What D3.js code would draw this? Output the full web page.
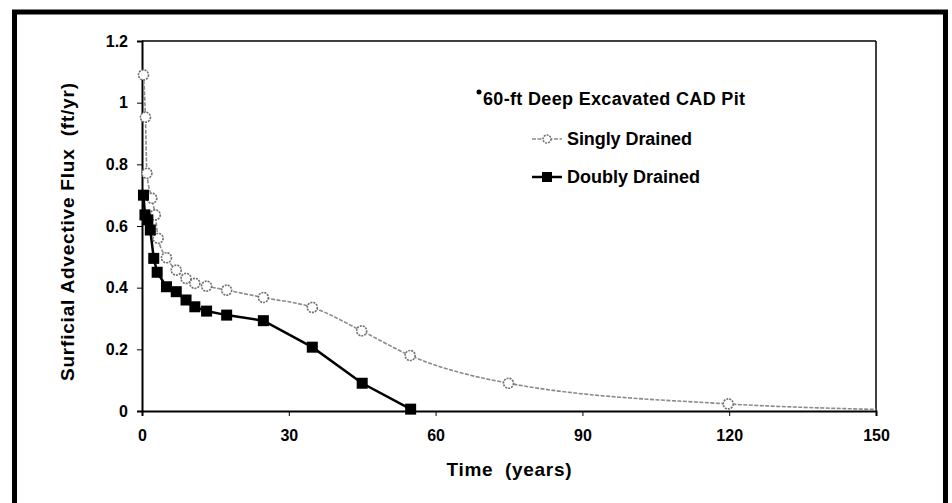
<!DOCTYPE html>
<html><head><meta charset="utf-8">
<script src="https://cdn.jsdelivr.net/npm/d3@7"></script>
<style>body{margin:0;background:#fff;} svg{display:block;} text{font-family:Arial,"Liberation Sans",sans-serif;font-weight:bold;fill:#000;white-space:pre;}</style>
</head><body><svg id="c" width="952" height="503"></svg>
<script>
// Data
const xTicks = [0, 30, 60, 90, 120, 150];
const yTicks = [0, 0.2, 0.4, 0.6, 0.8, 1, 1.2];
const yTickLabels = ["0", "0.2", "0.4", "0.6", "0.8", "1", "1.2"];
const singlyTime = [0.3, 0.7, 1.0, 2.0, 2.7, 3.3, 5.0, 7.0, 9.0, 10.8, 13.2, 17.3, 24.8, 34.8, 44.9, 54.8, 74.9, 119.8, 150];
const singlyFlux = [1.09, 0.953, 0.771, 0.69, 0.636, 0.56, 0.497, 0.457, 0.43, 0.414, 0.405, 0.392, 0.368, 0.336, 0.26, 0.18, 0.09, 0.023, 0.005];
const doublyTime = [0.3, 0.6, 1.2, 1.7, 2.4, 3.1, 5.0, 7.0, 9.0, 10.8, 13.2, 17.3, 24.8, 34.8, 45.0, 54.9];
const doublyFlux = [0.70, 0.636, 0.62, 0.587, 0.495, 0.45, 0.403, 0.387, 0.36, 0.338, 0.324, 0.311, 0.293, 0.207, 0.09, 0.006];
const legendTitle = "60-ft Deep Excavated CAD Pit";
const seriesNames = ["Singly Drained", "Doubly Drained"];

const svg = d3.select("#c");
const L = 142, R = 876, T = 41, B = 411;
const x = d3.scaleLinear().domain([0, 150]).range([L, R]);
const y = d3.scaleLinear().domain([0, 1.2]).range([B, T]);
const FF = "Arial, 'Liberation Sans', sans-serif";

// outer frame
svg.append("rect").attr("x", 14.5).attr("y", 12).attr("width", 931).attr("height", 530)
  .attr("fill", "none").attr("stroke", "#000").attr("stroke-width", 5);

// plot border (top/right)
svg.append("line").attr("x1", L).attr("x2", R).attr("y1", T).attr("y2", T).attr("stroke", "#000").attr("stroke-width", 1.5);
svg.append("line").attr("x1", R).attr("x2", R).attr("y1", T).attr("y2", B).attr("stroke", "#000").attr("stroke-width", 1.5);

// axes
const xAxis = d3.axisBottom(x).tickValues(xTicks).tickSize(5).tickPadding(14).tickFormat(d3.format("d"));
const gx = svg.append("g").attr("transform", `translate(0,${B})`).call(xAxis);
gx.select(".domain").attr("stroke-width", 2);
gx.selectAll("text").style("font-size", "16px").style("font-family", FF).style("font-weight", "bold");

const yAxis = d3.axisLeft(y).tickValues(yTicks).tickSize(5).tickPadding(9).tickFormat((d, i) => yTickLabels[i]);
const gy = svg.append("g").attr("transform", `translate(${L},0)`).call(yAxis);
gy.select(".domain").attr("stroke-width", 2);
gy.selectAll("text").style("font-size", "16px").style("font-family", FF).style("font-weight", "bold");

// axis titles
svg.append("text").attr("x", 509).attr("y", 476).attr("text-anchor", "middle")
  .attr("textLength", 125).attr("lengthAdjust", "spacing")
  .style("font-size", "19px").text("Time  (years)");
svg.append("text").attr("transform", "translate(74,232) rotate(-90)").attr("text-anchor", "middle")
  .attr("textLength", 298).attr("lengthAdjust", "spacing")
  .style("font-size", "19px").text("Surficial Advective Flux  (ft/yr)");

// series
const singly = singlyTime.map((t, i) => [t, singlyFlux[i]]);
const doubly = doublyTime.map((t, i) => [t, doublyFlux[i]]);
const curveLine = d3.line().x(d => x(d[0])).y(d => y(d[1])).curve(d3.curveMonotoneX);
const straightLine = d3.line().x(d => x(d[0])).y(d => y(d[1]));

svg.append("path").attr("d", curveLine(singly)).attr("fill", "none").attr("stroke", "#8a8a8a")
  .attr("stroke-width", 1.6).attr("stroke-dasharray", "4,1.5");
svg.append("path").attr("d", straightLine(doubly)).attr("fill", "none").attr("stroke", "#000")
  .attr("stroke-width", 2.5);

svg.append("g").selectAll("circle").data(singly.slice(0, singly.length - 1)).join("circle")
  .attr("cx", d => x(d[0])).attr("cy", d => y(d[1])).attr("r", 5)
  .attr("fill", "#fff").attr("stroke", "#707070").attr("stroke-width", 1.6).attr("stroke-dasharray", "2,1");
svg.append("g").selectAll("rect").data(doubly).join("rect")
  .attr("x", d => x(d[0]) - 5.5).attr("y", d => y(d[1]) - 5.5).attr("width", 11).attr("height", 11)
  .attr("fill", "#000");

// legend
svg.append("circle").attr("cx", 479).attr("cy", 92).attr("r", 2.5).attr("fill", "#000");
svg.append("text").attr("x", 483).attr("y", 105).attr("textLength", 262).attr("lengthAdjust", "spacing")
  .style("font-size", "18px").text(legendTitle);

svg.append("line").attr("x1", 532).attr("x2", 562).attr("y1", 139).attr("y2", 139)
  .attr("stroke", "#8a8a8a").attr("stroke-width", 1.6).attr("stroke-dasharray", "4,1.5");
svg.append("circle").attr("cx", 547).attr("cy", 139).attr("r", 4).attr("fill", "#fff")
  .attr("stroke", "#707070").attr("stroke-width", 1.5).attr("stroke-dasharray", "2,1");
svg.append("text").attr("x", 567).attr("y", 145).attr("textLength", 125).attr("lengthAdjust", "spacing")
  .style("font-size", "18px").text(seriesNames[0]);

svg.append("line").attr("x1", 532).attr("x2", 562).attr("y1", 177).attr("y2", 177)
  .attr("stroke", "#000").attr("stroke-width", 2.5);
svg.append("rect").attr("x", 542).attr("y", 172).attr("width", 10).attr("height", 10).attr("fill", "#000");
svg.append("text").attr("x", 567).attr("y", 183).attr("textLength", 133).attr("lengthAdjust", "spacing")
  .style("font-size", "18px").text(seriesNames[1]);
</script></body></html>
